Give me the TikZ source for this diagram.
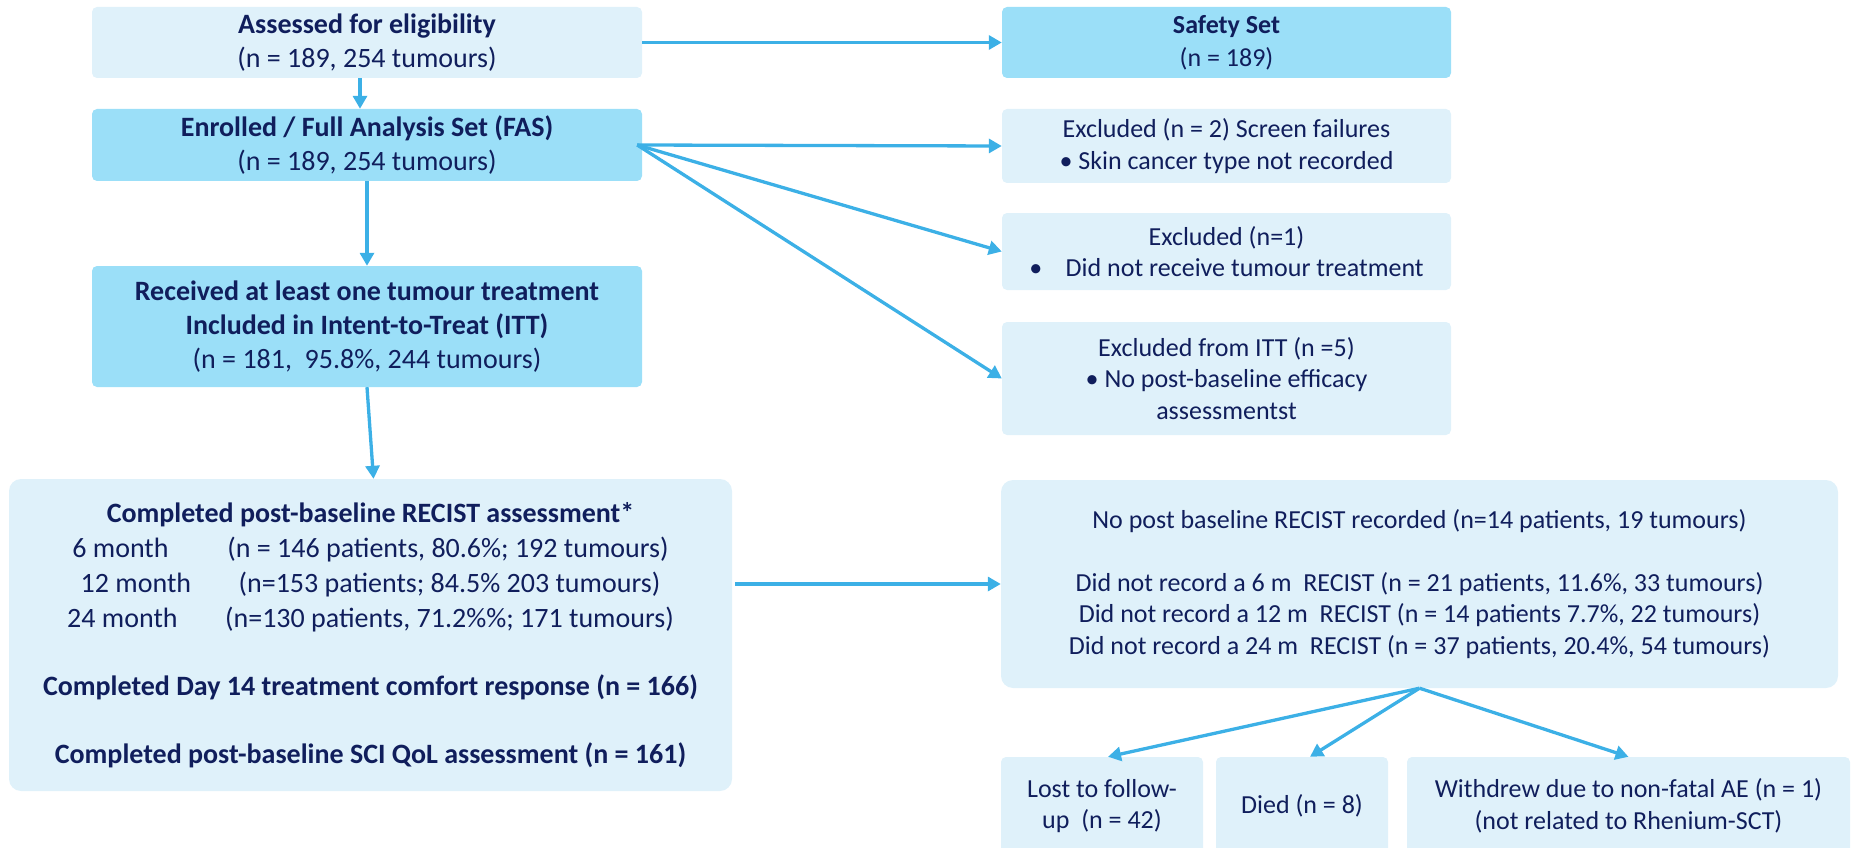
\documentclass[tikz,border=0pt]{standalone}
\usepackage{fontspec}
\setmainfont{Carlito}
\usetikzlibrary{arrows.meta}
\definecolor{boxlight}{RGB}{223,241,250}
\definecolor{boxdark}{RGB}{155,223,248}
\definecolor{flowblue}{RGB}{60,176,230}
\definecolor{navy}{RGB}{16,30,92}

\begin{document}
\begin{tikzpicture}[x=1pt, y=-1pt,
    lbox/.style={fill=boxlight, rounded corners=5pt, inner sep=0pt, align=center, text=navy, font=\fontsize{28}{34}\selectfont},
    dbox/.style={lbox, fill=boxdark},
    rbox/.style={lbox, font=\fontsize{26}{31.5}\selectfont},
    bigbox/.style={lbox, rounded corners=12pt},
    flow/.style={draw=flowblue, line width=3.3pt},
    >={Triangle[length=13pt,width=14pt]}]
    \clip (0,0) rectangle (1856,848);

    % left column
    \node[lbox, minimum width=550, minimum height=71] (ass) at (367,42.5) {\textbf{Assessed for eligibility}\\(n = 189, 254 tumours)};
    \node[dbox, minimum width=550, minimum height=72] (enr) at (367,145) {\textbf{Enrolled / Full Analysis Set (FAS)}\\(n = 189, 254 tumours)};
    \node[dbox, minimum width=550, minimum height=121] (rec) at (367,326.5) {\textbf{Received at least one tumour treatment}\\\textbf{Included in Intent-to-Treat (ITT)}\\(n = 181,\ \ 95.8\%, 244 tumours)};
    \node[bigbox, minimum width=723, minimum height=312, font=\fontsize{28}{35}\selectfont] (comp) at (370.5,635) {\textbf{Completed post-baseline RECIST assessment*}\\
        6 month\hspace{2.1em}(n = 146 patients, 80.6\%; 192 tumours)\\
        12 month\hspace{1.7em}(n=153 patients; 84.5\% 203 tumours)\\
        24 month\hspace{1.7em}(n=130 patients, 71.2\%\%; 171 tumours)\\[33pt]
        \textbf{Completed Day 14 treatment comfort response (n = 166)}\\[33pt]
        \textbf{Completed post-baseline SCI QoL assessment (n = 161)}};

    % right column
    \node[dbox, minimum width=449, minimum height=71, font=\fontsize{26}{33}\selectfont] (safe) at (1226.5,42.5) {\textbf{Safety Set}\\(n = 189)};
    \node[rbox, minimum width=449, minimum height=74] (ex2) at (1226.5,146) {Excluded (n = 2) Screen failures\\\textbullet\ Skin cancer type not recorded};
    \node[rbox, minimum width=449, minimum height=77] (ex1) at (1226.5,251.5) {Excluded (n=1)\\\textbullet\hspace{0.9em}Did not receive tumour treatment};
    \node[rbox, minimum width=449, minimum height=113] (exitt) at (1226.5,378.5) {Excluded from ITT (n =5)\\\textbullet\ No post-baseline efficacy\\assessmentst};
    \node[bigbox, minimum width=837, minimum height=208, font=\fontsize{26}{31.5}\selectfont] (nopost) at (1419.5,584) {No post baseline RECIST recorded (n=14 patients, 19 tumours)\\[31.5pt]
        Did not record a 6 m\ \ RECIST (n = 21 patients, 11.6\%, 33 tumours)\\
        Did not record a 12 m\ \ RECIST (n = 14 patients 7.7\%, 22 tumours)\\
        Did not record a 24 m\ \ RECIST (n = 37 patients, 20.4\%, 54 tumours)};

    % bottom row
    \node[rbox, minimum width=202, minimum height=98] (lost) at (1102,806) {Lost to follow-\\up\ \ (n = 42)};
    \node[rbox, minimum width=172, minimum height=98] (died) at (1302,806) {Died (n = 8)};
    \node[rbox, minimum width=443, minimum height=98] (wdr) at (1628.5,806) {Withdrew due to non-fatal AE (n = 1)\\(not related to Rhenium-SCT)};

    \begin{scope}[flow]
    \draw[->] (ass) to (safe);
    \draw[->] ([xshift=-7pt]ass.south) to ([xshift=-7pt]enr.north);
    \draw[->] (enr) to (rec);
    \draw[->] (rec.south) to ([xshift=3pt]comp.north);
    \draw[->] ([xshift=-5pt]enr.east) to (ex2.west);
    \draw[->] ([xshift=-5pt]enr.east) to (ex1.west);
    \draw[->] ([xshift=-5pt]enr.east) to (exitt.west);
    \draw[->] ([xshift=3pt]comp.east |- nopost.west) to (nopost.west);
    \end{scope}

    \begin{scope}[flow]
    \draw[->] (nopost.south) to ([xshift=6pt]lost.north);
    \draw[->] (nopost.south) to ([xshift=8pt]died.north);
    \draw[->] (nopost.south) to (wdr.north);
    \end{scope}

\end{tikzpicture}
\end{document}
